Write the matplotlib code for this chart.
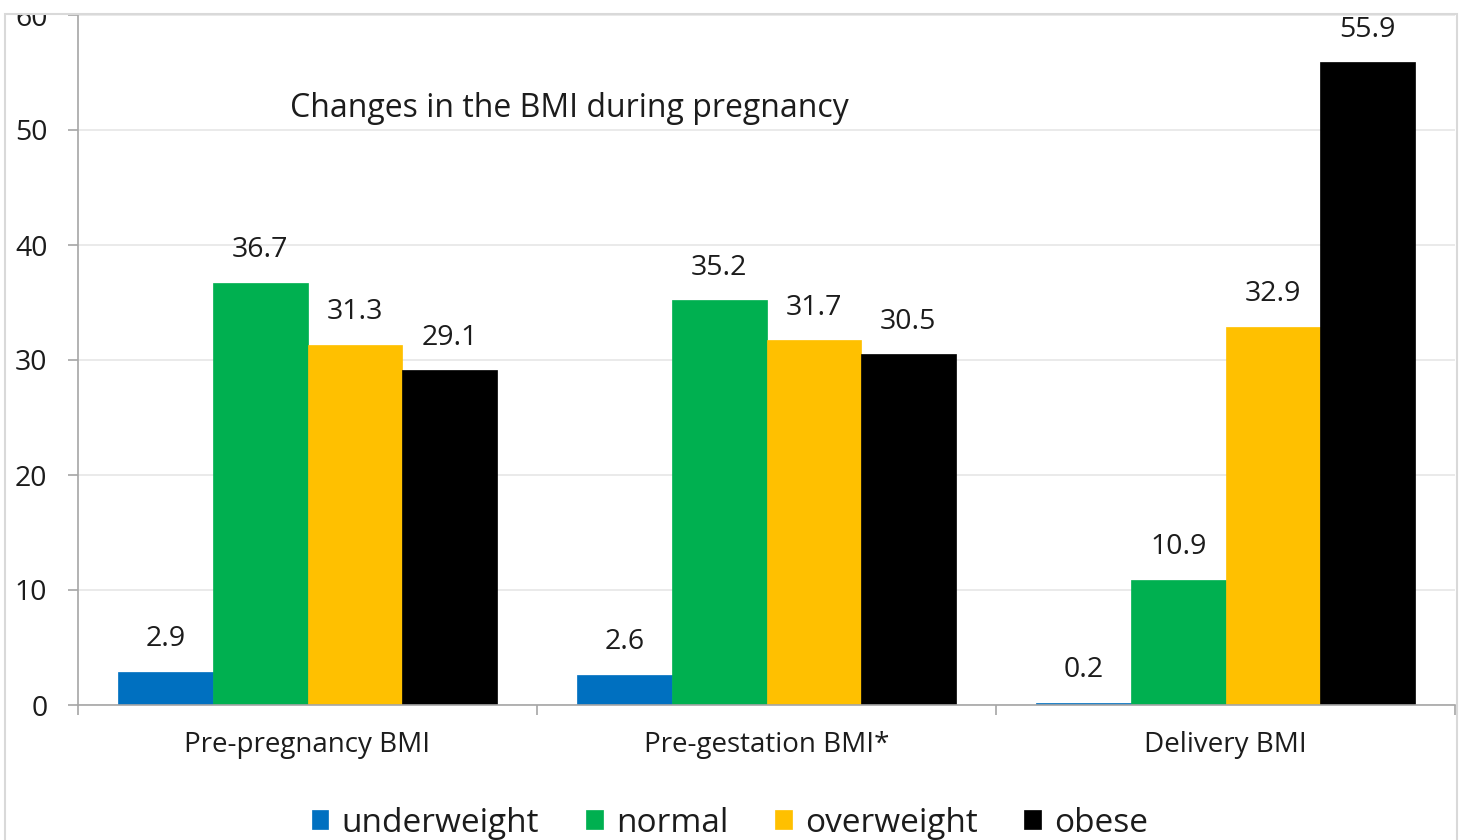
import numpy as np
import matplotlib
matplotlib.use("Agg")
import matplotlib.pyplot as plt
import matplotlib.transforms as mtransforms
from matplotlib.patches import Rectangle

# data
categories = ["Pre-pregnancy BMI", "Pre-gestation BMI*", "Delivery BMI"]
underweight = [2.9, 2.6, 0.2]
normal = [36.7, 35.2, 10.9]
overweight = [31.3, 31.7, 32.9]
obese = [29.1, 30.5, 55.9]
series_names = ["underweight", "normal", "overweight", "obese"]
colors = ["#0070C0", "#00B050", "#FFC000", "#000000"]

plt.rcParams['font.family'] = ['Open Sans', 'DejaVu Sans']
txt = "#1c1c1c"

fig = plt.figure(figsize=(14.68, 8.4), dpi=100)
ax = fig.add_axes([78 / 1468, 1 - 705 / 840, (1455 - 78) / 1468, (705 - 15) / 840])

x = np.arange(len(categories))
width = 0.206
series = [underweight, normal, overweight, obese]
for i, (vals, name, c) in enumerate(zip(series, series_names, colors)):
    pos = x + (i - 1.5) * width
    bars = ax.bar(pos, vals, width, color=c, label=name, zorder=2,
                  edgecolor=c, linewidth=0.5)
    for b, v in zip(bars, vals):
        ax.annotate(f"{v}", (b.get_x() + b.get_width() / 2, v),
                    xytext=(0, 23.5), textcoords="offset points",
                    ha="center", va="center", fontsize=20.5, color=txt)

ax.set_xlim(-0.5, 2.5)
ax.set_ylim(0, 60)
ax.set_yticks(range(0, 61, 10))
ax.yaxis.grid(True, color="#E6E6E6", linewidth=1.2, zorder=0)
ax.set_axisbelow(True)

# group separators as major ticks, category names on minor ticks
ax.set_xticks([-0.5, 0.5, 1.5, 2.5])
ax.set_xticklabels([])
ax.set_xticks(x, minor=True)
ax.set_xticklabels(categories, minor=True)
ax.tick_params(axis="x", which="major", length=7, width=1.2, color="#A6A6A6", direction="out")
ax.tick_params(axis="x", which="minor", length=0, pad=19, labelsize=20, labelcolor=txt)
ax.tick_params(axis="y", length=7, width=1.2, color="#A6A6A6", pad=15, labelsize=20.5, labelcolor=txt)

for s in ["top", "right"]:
    ax.spines[s].set_visible(False)
for s in ["left", "bottom"]:
    ax.spines[s].set_color("#A6A6A6")
    ax.spines[s].set_linewidth(1.2)

ax.text(290 / 1468, 51.9, "Changes in the BMI during pregnancy",
        transform=mtransforms.blended_transform_factory(fig.transFigure, ax.transData),
        fontsize=23, color=txt, va="center", ha="left")

leg = fig.legend(loc="center", bbox_to_anchor=(730 / 1468, 1 - 823 / 840), ncol=4, frameon=False,
                 fontsize=24, handlelength=0.5, handleheight=0.5, handletextpad=0.4,
                 columnspacing=1.4)
for t in leg.get_texts():
    t.set_color(txt)

# outer chart frame, cut at the top like the source image
fig.add_artist(Rectangle((0, 1 - 13 / 840), 1, 13 / 840, transform=fig.transFigure,
                         facecolor="white", edgecolor="none", zorder=5))
fig.add_artist(Rectangle((5 / 1468, -0.1), (1457 - 5) / 1468, 1.1 - 14 / 840, transform=fig.transFigure,
                         facecolor="none", edgecolor="#D9D9D9", linewidth=1.5, zorder=6))

fig.savefig("out.png", dpi=100)
